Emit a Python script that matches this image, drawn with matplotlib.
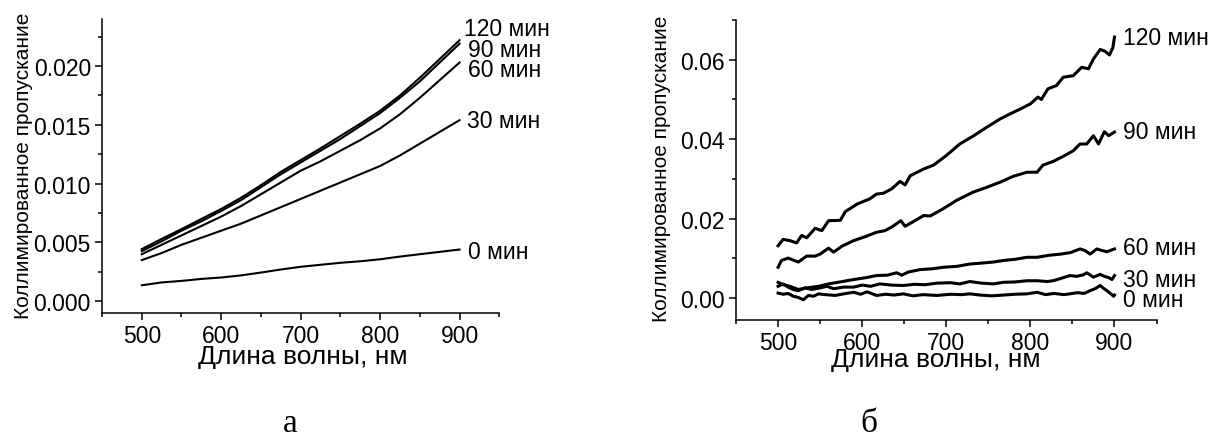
import matplotlib
matplotlib.use("Agg")
import matplotlib.pyplot as plt
from matplotlib.ticker import MultipleLocator, FormatStrFormatter

plt.rcParams['font.family'] = ['Liberation Sans', 'DejaVu Sans']

# ---- panel (а): smooth spectra ----
wl_a = [500, 525, 550, 575, 600, 625, 650, 675, 700, 725, 750, 775, 800, 825, 850, 875, 900]
a_120 = [0.00443, 0.0053, 0.00613, 0.0070, 0.00785, 0.0088, 0.00987, 0.0110, 0.0120, 0.0130,
         0.01405, 0.0151, 0.0162, 0.0175, 0.0190, 0.0206, 0.0222]
a_90 = [0.00426, 0.0051, 0.0060, 0.0068, 0.00768, 0.0086, 0.0097, 0.0108, 0.0118, 0.0128,
        0.0138, 0.0149, 0.0160, 0.0173, 0.0187, 0.0203, 0.0219]
a_60 = [0.0040, 0.0048, 0.0056, 0.0064, 0.0072, 0.0081, 0.0091, 0.0101, 0.0111, 0.0119,
        0.0128, 0.0137, 0.0147, 0.0159, 0.0173, 0.0188, 0.0203]
a_30 = [0.0035, 0.0041, 0.0048, 0.0054, 0.0060, 0.0066, 0.0073, 0.0080, 0.0087, 0.0094,
        0.0101, 0.0108, 0.0115, 0.0124, 0.0134, 0.0144, 0.0154]
a_0 = [0.00136, 0.0016, 0.00173, 0.0019, 0.00202, 0.0022, 0.00244, 0.0027, 0.00293, 0.0031,
       0.00327, 0.0034, 0.00357, 0.0038, 0.0040, 0.0042, 0.0044]

# ---- panel (б): noisy spectra ----
wl_b120 = [500, 506, 514, 522, 528, 534, 544, 552, 560, 574, 580, 594, 609, 617, 625, 635, 645,
           651, 657, 673, 685, 700, 716, 732, 748, 764, 776, 788, 800, 809, 813, 821, 831, 839,
           851, 861, 869, 875, 883, 889, 894, 898, 900]
b_120 = [0.0132, 0.0148, 0.0145, 0.0139, 0.0158, 0.0152, 0.0176, 0.0170, 0.0195, 0.0196, 0.0218,
         0.0237, 0.0250, 0.0262, 0.0264, 0.0275, 0.0294, 0.0285, 0.0308, 0.0325, 0.0335, 0.0359,
         0.0388, 0.0408, 0.0430, 0.0451, 0.0464, 0.0476, 0.0489, 0.0506, 0.0500, 0.0527, 0.0535,
         0.0556, 0.0560, 0.0581, 0.0577, 0.0602, 0.0626, 0.0621, 0.0612, 0.0630, 0.0657]

wl_b90 = [500, 504, 512, 518, 524, 534, 544, 550, 560, 566, 576, 590, 605, 617, 627, 635, 646,
          651, 661, 673, 681, 697, 712, 732, 748, 764, 780, 796, 808, 815, 827, 839, 851, 859,
          867, 875, 881, 888, 893, 900]
b_90 = [0.0078, 0.0095, 0.0101, 0.0096, 0.0091, 0.0106, 0.0106, 0.0111, 0.0126, 0.0116, 0.0131,
        0.0145, 0.0156, 0.0166, 0.0170, 0.0179, 0.0195, 0.0181, 0.0193, 0.0208, 0.0207, 0.0226,
        0.0246, 0.0267, 0.0279, 0.0292, 0.0307, 0.0317, 0.0317, 0.0335, 0.0344, 0.0357, 0.0371,
        0.0388, 0.0388, 0.0409, 0.0388, 0.0419, 0.0409, 0.0418]

wl_b60 = [500, 506, 514, 524, 534, 548, 560, 571, 590, 605, 617, 630, 641, 647, 655, 669, 683,
          697, 712, 728, 740, 756, 768, 782, 796, 808, 822, 836, 848, 859, 865, 871, 879, 885,
          891, 900]
b_60 = [0.0040, 0.0034, 0.0030, 0.0022, 0.0026, 0.0030, 0.0036, 0.0040, 0.0047, 0.0052, 0.0057,
        0.0058, 0.0064, 0.0058, 0.0066, 0.0072, 0.0074, 0.0078, 0.0080, 0.0086, 0.0088, 0.0091,
        0.0095, 0.0098, 0.0103, 0.0103, 0.0108, 0.0111, 0.0115, 0.0124, 0.0120, 0.0111, 0.0124,
        0.0120, 0.0117, 0.0124]

wl_b30 = [500, 506, 512, 518, 524, 532, 540, 548, 558, 566, 578, 590, 600, 610, 621, 635, 649,
          662, 675, 689, 705, 716, 728, 742, 756, 768, 782, 796, 808, 820, 827, 835, 847, 855,
          863, 867, 875, 883, 888, 893, 897, 900]
b_30 = [0.0030, 0.0036, 0.0028, 0.0022, 0.0019, 0.0026, 0.0022, 0.0025, 0.0030, 0.0024, 0.0028,
        0.0028, 0.0033, 0.0030, 0.0036, 0.0033, 0.0032, 0.0035, 0.0034, 0.0038, 0.0039, 0.0036,
        0.0042, 0.0038, 0.0036, 0.0040, 0.0041, 0.0044, 0.0044, 0.0042, 0.0044, 0.0049, 0.0057,
        0.0055, 0.0059, 0.0064, 0.0053, 0.0060, 0.0055, 0.0052, 0.0047, 0.0057]

wl_b0 = [500, 506, 512, 518, 524, 530, 536, 542, 548, 556, 568, 578, 590, 598, 606, 617, 628,
         638, 649, 660, 672, 689, 705, 718, 728, 740, 754, 768, 782, 796, 808, 818, 828, 840,
         847, 856, 864, 871, 877, 883, 887, 891, 895, 899, 900]
b_0 = [0.0013, 0.0010, 0.0012, 0.0005, 0.0002, -0.0004, 0.0007, 0.0005, 0.0011, 0.0009, 0.0007,
       0.0011, 0.0015, 0.0010, 0.0016, 0.0007, 0.0010, 0.0008, 0.0011, 0.0006, 0.0009, 0.0007,
       0.0010, 0.0009, 0.0011, 0.0008, 0.0006, 0.0008, 0.0010, 0.0011, 0.0015, 0.0009, 0.0012,
       0.0009, 0.0011, 0.0014, 0.0012, 0.0019, 0.0024, 0.0032, 0.0025, 0.0019, 0.0012, 0.0005,
       0.0008]

labels = ["120 мин", "90 мин", "60 мин", "30 мин", "0 мин"]
# label anchors (wavelength, baseline value) for each panel
lab_a_x = [906, 910, 910, 909, 911]
lab_a_y = [0.02264, 0.02088, 0.01917, 0.01483, 0.00372]
lab_b_x = [910, 910, 910, 910, 910]
lab_b_y = [0.0640, 0.0403, 0.01115, 0.00317, -0.00186]

ylabel = "Коллимированное пропускание"
xlabel = "Длина волны, нм"

fig = plt.figure(figsize=(12.16, 4.39), dpi=100)
ax1 = fig.add_axes([0.0839, 0.2847, 0.3267, 0.6697])
ax2 = fig.add_axes([0.6053, 0.2695, 0.3458, 0.6827])

TICK_FS = 16.5
LAB_FS = 16.5


def style(ax):
    for s in ("top", "right"):
        ax.spines[s].set_visible(False)
    for s in ("left", "bottom"):
        ax.spines[s].set_linewidth(1.1)
    ax.set_xlim(450, 950)
    ax.xaxis.set_major_locator(MultipleLocator(100))
    ax.xaxis.set_minor_locator(MultipleLocator(50))
    ax.tick_params(which="major", direction="out", length=5, width=1.1,
                   labelsize=TICK_FS, pad=3)
    ax.tick_params(which="minor", direction="out", length=3, width=1.1)
    ax.tick_params(axis="y", which="major", pad=3)


# panel а
for y in (a_120, a_90, a_60, a_30, a_0):
    ax1.plot(wl_a, y, color="black", lw=1.5)
style(ax1)
ax1.set_ylim(-0.001, 0.024)
ax1.yaxis.set_major_locator(MultipleLocator(0.005))
ax1.yaxis.set_minor_locator(MultipleLocator(0.0025))
ax1.yaxis.set_major_formatter(FormatStrFormatter("%.3f"))
for t, x, y in zip(labels, lab_a_x, lab_a_y):
    ax1.text(x, y, t, fontsize=LAB_FS, ha="left", va="baseline")

# panel б
for wl, y in ((wl_b120, b_120), (wl_b90, b_90), (wl_b60, b_60), (wl_b30, b_30), (wl_b0, b_0)):
    ax2.plot(wl, y, color="black", lw=2.2, solid_joinstyle="round")
style(ax2)
ax2.set_ylim(-0.0054, 0.070)
ax2.yaxis.set_major_locator(MultipleLocator(0.02))
ax2.yaxis.set_minor_locator(MultipleLocator(0.01))
ax2.yaxis.set_major_formatter(FormatStrFormatter("%.2f"))
for t, x, y in zip(labels, lab_b_x, lab_b_y):
    ax2.text(x, y, t, fontsize=LAB_FS, ha="left", va="baseline")

# axis titles
for ax, ylx, yly, xlx, xly in ((ax1, -0.1988, 0.505, 0.5047, -0.170),
                               (ax2, -0.177, 0.506, 0.4756, -0.1545)):
    ax.set_ylabel(ylabel, fontsize=15, va="center")
    ax.yaxis.set_label_coords(ylx, yly)
    ax.set_xlabel(xlabel, fontsize=19, va="baseline")
    ax.xaxis.set_label_coords(xlx, xly)

# panel letters
fig.text(290 / 1216, 1 - 432 / 439, "а", fontsize=24, ha="center", va="baseline",
         family=["Liberation Serif", "DejaVu Serif"])
fig.text(869 / 1216, 1 - 432 / 439, "б", fontsize=24, ha="center", va="baseline",
         family=["Liberation Serif", "DejaVu Serif"])

fig.savefig("out.png", dpi=100)
